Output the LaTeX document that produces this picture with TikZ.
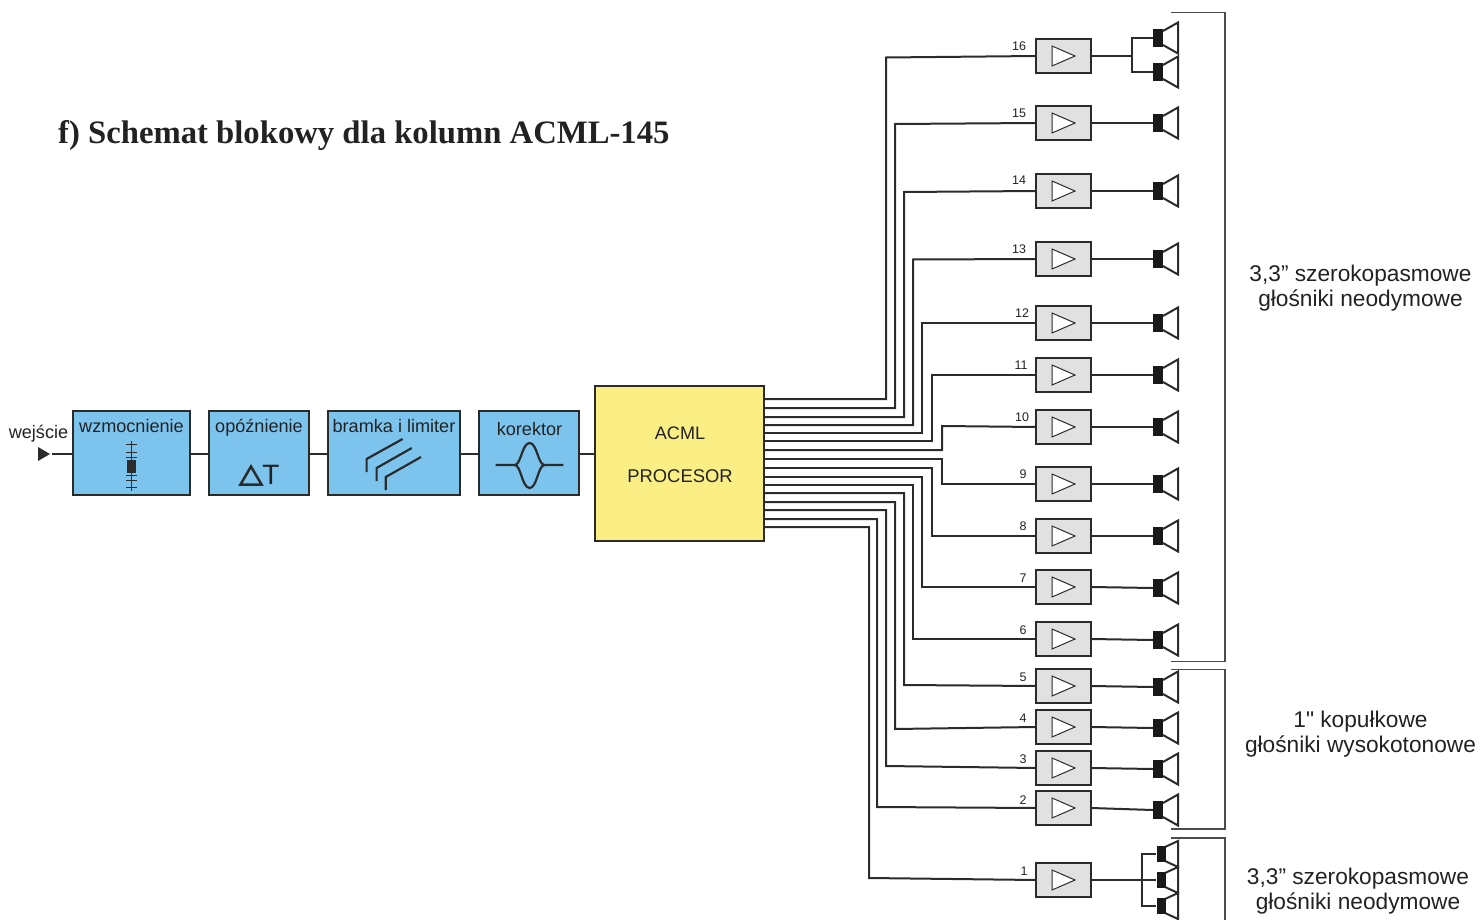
\documentclass[tikz,border=0pt]{standalone}
\usepackage{fontspec}
\setmainfont{Liberation Sans}
\newfontfamily\titlefont{Liberation Serif}
\newfontfamily\plainsans{Liberation Sans}
\definecolor{ln}{HTML}{2B2B2B}
\definecolor{blk}{HTML}{7CC4EE}
\definecolor{ylw}{HTML}{FBEE85}
\definecolor{ampf}{HTML}{E1E1E1}
\definecolor{txt}{HTML}{222222}
\tikzset{
 conn/.style={draw=ln,line width=2pt,line join=miter},
 blue box/.style={draw=ln,line width=2pt,outer sep=0pt,fill=blk,inner sep=0pt,rectangle,anchor=north west},
 amp/.style={draw=ln,line width=2pt,outer sep=0pt,fill=ampf,inner sep=0pt,minimum width=55pt,minimum height=34pt,rectangle},
 ampsym/.style={draw=ln,line width=1pt,fill=white,line join=miter},
 spk/.style={fill=black!90,draw=none,inner sep=0pt,minimum width=10pt,minimum height=18pt,rectangle},
 cone/.style={draw=ln,line width=2pt,fill=white,line join=miter},
 lbl/.style={text=txt,font=\fontsize{18.1}{20}\selectfont,inner sep=0pt},
 num/.style={text=txt,font=\fontsize{12.5}{14}\selectfont,inner sep=0pt},
 side/.style={text=txt,font=\fontsize{22.7}{25}\selectfont,align=center,inner sep=0pt},
 brace/.style={draw=ln!85!white,line width=1.1pt},
 icon/.style={draw=ln,line width=2.5pt,line join=miter}
}
\begin{document}
\begin{tikzpicture}[x=1pt,y=-1pt]
\useasboundingbox (0,0) rectangle (1481,920);
\node[anchor=west,inner sep=0pt,text=txt,font=\titlefont\bfseries\fontsize{32.7}{34}\selectfont] (title) at (58,136) {f) Schemat blokowy dla kolumn ACML-145};

% chain
\coordinate (in) at (52,454);
\node[blue box,minimum width=117pt,minimum height=84pt] (b1) at (73,411) {};
\node[blue box,minimum width=100pt,minimum height=84pt] (b2) at (209,411) {};
\node[blue box,minimum width=132pt,minimum height=84pt] (b3) at (328,411) {};
\node[blue box,minimum width=100pt,minimum height=84pt] (b4) at (479,411) {};
\node[blue box,fill=ylw,minimum width=169pt,minimum height=155pt] (proc) at (595,386) {};
\coordinate (w1) at (73,454); \coordinate (e1) at (190,454);
\coordinate (w2) at (209,454); \coordinate (e2) at (309,454);
\coordinate (w3) at (328,454); \coordinate (e3) at (460,454);
\coordinate (w4) at (479,454); \coordinate (e4) at (579,454);
\coordinate (w5) at (595,454);
\draw[conn] (in)--(w1) (e1)--(w2) (e2)--(w3) (e3)--(w4) (e4)--(w5);
\fill[ln] (38,447)--(50,454)--(38,461)--cycle;
\node[lbl] (wej) at (38.5,433.5) {wejście};
\node[lbl] (t1) at (131.5,426.5) {wzmocnienie};
\node[lbl] (t2) at (259,427.5) {opóźnienie};
\node[lbl] (t3) at (394,426.5) {bramka i limiter};
\node[lbl] (t4) at (529.5,429.5) {korektor};
\node[lbl] (t5) at (680,433.5) {ACML};
\node[lbl,font=\fontsize{18.4}{20}\selectfont] (t6) at (680,476.5) {PROCESOR};

% fader icon
\draw[ln,line width=1pt] (131.5,441)--(131.5,491)
 (126,444)--(137,444) (126,452)--(137,452) (126,457)--(137,457)
 (126,475)--(137,475) (126,480)--(137,480) (126,487)--(137,487);
\fill[ln] (127,460) rectangle (136,473);
% delta T
\draw[icon] (240.5,484.5)--(251,466.5)--(261.5,484.5)--cycle;
\node[text=txt,inner sep=0pt,font=\fontsize{28}{30}\selectfont] (tT) at (271,475) {T};
% limiter
\draw[icon,line width=2.2pt] (366.6,472)--(366.6,459)--(402.6,439);
\draw[icon,line width=2.2pt] (376.6,481)--(376.6,468)--(411.8,448);
\draw[icon,line width=2.2pt] (385.8,490)--(385.8,477)--(421,457);
% eq
\draw[ln,line width=2.2pt] (495.6,465)--(514.7,465) .. controls (521,465) and (522,443) .. (529.7,443) .. controls (537,443) and (538,465) .. (544.6,465)--(563.3,465);
\draw[ln,line width=2.2pt] (514.7,465) .. controls (521,465) and (522,488) .. (529.7,488) .. controls (537,488) and (538,465) .. (544.6,465);

% amps: id / amp y / line y at bend / port y / bend x / label x / label y
\foreach \n/\ay/\by/\py/\bx/\lx/\ly in {
 16/56/57.5/399/886/1019/46,
 15/123/124/408/895/1019/113,
 14/191/192/417/904/1019/180,
 13/259/259.5/425/913/1019/249,
 12/323/323/433/922/1022/313,
 11/375/375/441/932/1021/365,
 10/427/426/450/942/1022/417,
 9/484/484/459/942/1023/474,
 8/536/536/468/932/1023/526,
 7/587/587/477/922/1023/578,
 6/639/639/485/913/1023/630,
 5/686/685/493/904/1023/677,
 4/727/729/502/895/1023/718,
 3/768/766/510/886/1023/759,
 2/808/807/519/877/1023/800,
 1/880/878/527/869/1024/871}{
 \node[amp] (a\n) at (1063.5,\ay) {};
 \draw[ampsym] (1052,\ay-10)--(1075,\ay)--(1052,\ay+10)--cycle;
 \node[num] (n\n) at (\lx,\ly) {\n};
 \coordinate (p\n) at (765,\py);
 \draw[conn] (p\n)--(\bx,\py)--(\bx,\by)--(a\n.west);
}
% single speakers
\foreach \n/\sy in {15/123,14/191,13/259,12/323,11/375,10/427,9/484,8/536,7/588,6/640,5/687,4/728,3/769,2/810}{
 \node[spk] (s\n) at (1158,\sy) {};
 \draw[cone] (1163,\sy-7)--(1178,\sy-15.5)--(1178,\sy+15.5)--(1163,\sy+7);
 \draw[conn] (a\n.east)--(s\n.west);
}
% 16 double
\foreach \k/\sy in {a/38,b/72}{
 \node[spk] (s16\k) at (1158,\sy) {};
 \draw[cone] (1163,\sy-7)--(1178,\sy-15.5)--(1178,\sy+15.5)--(1163,\sy+7);
}
\coordinate (j16) at (1132,56);
\draw[conn] (a16.east)--(j16);
\draw[conn,line width=1.6pt] (s16a.west)--(1132,38)--(1132,72)--(s16b.west);
% 1 triple
\foreach \k/\sy in {a/854,b/880,c/906}{
 \draw[cone] (1165,\sy-7)--(1178,\sy-13)--(1178,\sy+13)--(1165,\sy+7);
 \node[spk,minimum width=9pt,minimum height=16pt] (s1\k) at (1161,\sy) {};
}
\draw[conn] (a1.east)--(s1b.west);
\draw[conn,line width=1.6pt] (s1a.west)--(1142,854)--(1142,906)--(s1c.west);

% groups
\coordinate (g1a) at (1171,12.5); \coordinate (g1b) at (1225,12.5); \coordinate (g1c) at (1225,661.5); \coordinate (g1d) at (1171,661.5);
\draw[brace] (g1a)--(g1b)--(g1c)--(g1d);
\coordinate (g2a) at (1171,669.5); \coordinate (g2b) at (1225,669.5); \coordinate (g2c) at (1225,829); \coordinate (g2d) at (1171,829);
\draw[brace] (g2a)--(g2b)--(g2c)--(g2d);
\coordinate (g3a) at (1171,838); \coordinate (g3b) at (1225,838); \coordinate (g3c) at (1225,920);
\draw[brace] (g3a)--(g3b)--(g3c);
\node[side] (l1) at (1360.5,288.5) {3,3” szerokopasmowe\\głośniki neodymowe};
\node[side] (l2) at (1360.5,734.5) {{\plainsans 1"} kopułkowe\\głośniki wysokotonowe};
\node[side] (l3) at (1358,891.5) {3,3” szerokopasmowe\\głośniki neodymowe};
\end{tikzpicture}
\end{document}
